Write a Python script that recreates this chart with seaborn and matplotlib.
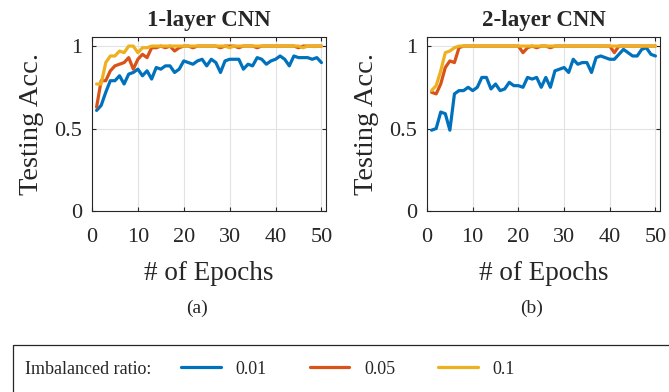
import matplotlib
matplotlib.use("Agg")
import matplotlib.pyplot as plt
import seaborn as sns
import pandas as pd
import numpy as np
from matplotlib.lines import Line2D
from matplotlib.patches import Rectangle

epochs = list(range(1, 51))
ratios = ["0.01", "0.05", "0.1"]
colors = ["#0072BD", "#D95319", "#EDB120"]

# 1-layer CNN
cnn1_r001 = [0.61, 0.64, 0.72, 0.79, 0.79, 0.82, 0.77, 0.83, 0.84, 0.86,
             0.82, 0.85, 0.80, 0.87, 0.86, 0.88, 0.88, 0.84, 0.86, 0.91,
             0.90, 0.89, 0.91, 0.92, 0.88, 0.92, 0.90, 0.84, 0.91, 0.92,
             0.92, 0.92, 0.86, 0.89, 0.88, 0.93, 0.92, 0.89, 0.91, 0.92,
             0.94, 0.92, 0.88, 0.94, 0.93, 0.93, 0.93, 0.92, 0.93, 0.90]
cnn1_r005 = [0.63, 0.79, 0.79, 0.85, 0.88, 0.89, 0.90, 0.93, 0.86, 0.92,
             0.95, 0.93, 0.99, 0.99, 1.00, 0.99, 1.00, 0.97, 0.99, 1.00,
             1.00, 0.99, 1.00, 1.00, 1.00, 1.00, 1.00, 0.99, 1.00, 1.00,
             1.00, 0.99, 1.00, 1.00, 1.00, 0.99, 1.00, 1.00, 1.00, 1.00,
             1.00, 1.00, 1.00, 1.00, 0.99, 1.00, 1.00, 1.00, 1.00, 1.00]
cnn1_r01 = [0.77, 0.77, 0.90, 0.94, 0.94, 0.97, 0.96, 1.00, 1.00, 0.96,
            0.99, 0.99, 1.00, 1.00, 1.00, 1.00, 1.00, 1.00, 1.00, 1.00,
            1.00, 1.00, 1.00, 1.00, 1.00, 1.00, 1.00, 1.00, 1.00, 0.99,
            1.00, 1.00, 1.00, 1.00, 1.00, 1.00, 1.00, 1.00, 1.00, 1.00,
            1.00, 1.00, 1.00, 1.00, 1.00, 0.99, 1.00, 1.00, 1.00, 1.00]

# 2-layer CNN
cnn2_r001 = [0.49, 0.50, 0.60, 0.59, 0.49, 0.71, 0.73, 0.73, 0.75, 0.73,
             0.75, 0.81, 0.81, 0.74, 0.77, 0.73, 0.74, 0.78, 0.76, 0.76,
             0.75, 0.81, 0.80, 0.81, 0.75, 0.81, 0.75, 0.85, 0.86, 0.87,
             0.84, 0.92, 0.89, 0.90, 0.90, 0.84, 0.93, 0.94, 0.93, 0.92,
             0.92, 0.95, 0.98, 0.96, 0.94, 0.94, 0.98, 0.99, 0.95, 0.94]
cnn2_r005 = [0.72, 0.71, 0.77, 0.87, 0.91, 0.90, 0.99, 1.00, 1.00, 1.00,
             1.00, 1.00, 1.00, 1.00, 1.00, 1.00, 1.00, 1.00, 1.00, 1.00,
             0.96, 0.99, 1.00, 0.99, 1.00, 1.00, 0.99, 1.00, 1.00, 1.00,
             1.00, 1.00, 1.00, 1.00, 1.00, 1.00, 1.00, 1.00, 1.00, 1.00,
             0.96, 1.00, 1.00, 1.00, 1.00, 1.00, 1.00, 1.00, 1.00, 1.00]
cnn2_r01 = [0.73, 0.76, 0.85, 0.96, 0.97, 0.99, 1.00, 1.00, 1.00, 1.00,
            1.00, 1.00, 1.00, 1.00, 1.00, 1.00, 1.00, 1.00, 1.00, 1.00,
            1.00, 1.00, 1.00, 1.00, 1.00, 1.00, 1.00, 1.00, 1.00, 1.00,
            1.00, 1.00, 1.00, 1.00, 1.00, 1.00, 1.00, 1.00, 1.00, 1.00,
            1.00, 1.00, 1.00, 1.00, 1.00, 1.00, 1.00, 1.00, 1.00, 1.00]

def to_long(series):
    rows = []
    for r, vals in zip(ratios, series):
        for e, v in zip(epochs, vals):
            rows.append({"epoch": e, "acc": v, "ratio": r})
    return pd.DataFrame(rows)

df1 = to_long([cnn1_r001, cnn1_r005, cnn1_r01])
df2 = to_long([cnn2_r001, cnn2_r005, cnn2_r01])

sns.set_style("white")
plt.rcParams['font.family'] = ['Liberation Serif', 'DejaVu Serif']

fig = plt.figure(figsize=(6.69, 3.92), dpi=100)
ax1 = fig.add_axes([0.1375, 0.4617, 0.3498, 0.4439])
ax2 = fig.add_axes([0.6383, 0.4617, 0.3483, 0.4439])

panels = [(ax1, df1, "1-layer CNN", "(a)"), (ax2, df2, "2-layer CNN", "(b)")]
for ax, df, title, tag in panels:
    sns.lineplot(data=df, x="epoch", y="acc", hue="ratio", palette=colors,
                 linewidth=2.3, ax=ax, legend=False)
    ax.set_xlim(0, 51)
    ax.set_ylim(0, 1.055)
    ax.set_xticks([0, 10, 20, 30, 40, 50])
    ax.set_yticks([0, 0.5, 1])
    ax.set_yticklabels(["0", "0.5", "1"])
    ax.grid(True, color="#e2e2e2", linewidth=0.8)
    ax.tick_params(direction="in", length=3, labelsize=16, colors="#262626",
                   top=True, right=True, bottom=True, left=True)
    ax.tick_params(axis="x", pad=12)
    ax.tick_params(axis="y", pad=7)
    for s in ax.spines.values():
        s.set_visible(True)
        s.set_color("#262626")
        s.set_linewidth(0.8)
    ax.set_title(title, fontsize=16.5, fontweight="bold", pad=8)
    ax.set_xlabel("# of Epochs", fontsize=19.5)
    ax.set_ylabel("Testing Acc.", fontsize=20.5)
    ax.xaxis.set_label_coords(0.5, -0.285)
    ax.yaxis.set_label_coords(-0.205, 0.5)
    ax.text(0.45, -0.56, tag, transform=ax.transAxes, ha="center",
            va="center", fontsize=14)

# legend box, cut off at the bottom and right like the source figure
fig.patches.append(Rectangle((13 / 669, -0.2), 1.0, 0.32, transform=fig.transFigure,
                             fill=False, edgecolor="#262626", linewidth=0.9))
fig.text(25 / 669, 1 - 369 / 392, "Imbalanced ratio:", ha="left", va="center",
         fontsize=13)
handles = [Line2D([], [], color=c, linewidth=2.3) for c in colors]
fig.legend(handles, ratios, loc="center left",
           bbox_to_anchor=(181 / 669, 1 - 369 / 392),
           ncol=3, frameon=False, fontsize=13, borderpad=0, borderaxespad=0,
           handlelength=2.2, handletextpad=0.8, columnspacing=2.4)

fig.savefig("out.png", dpi=100)
